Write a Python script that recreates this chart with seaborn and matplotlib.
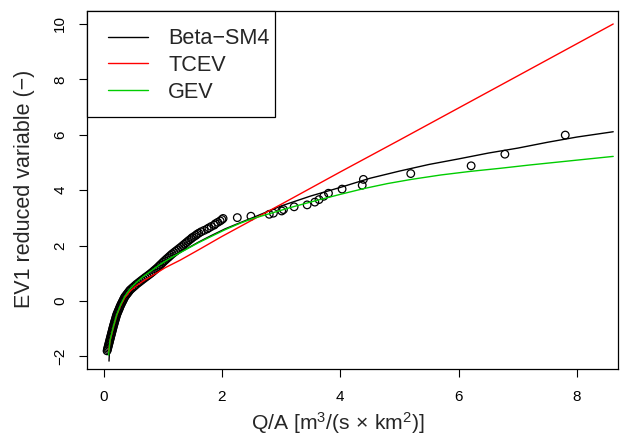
import matplotlib
matplotlib.use("Agg")
import matplotlib.pyplot as plt
from matplotlib.patches import Rectangle
import seaborn as sns
import pandas as pd

# Observed specific discharge (Q/A) and EV1 reduced variate of each sample
obs_x = [
    0.060, 0.066, 0.072, 0.078, 0.084, 0.090, 0.096, 0.102, 0.108,
    0.114, 0.120, 0.126, 0.132, 0.138, 0.144, 0.150, 0.156, 0.162, 0.168,
    0.175, 0.182, 0.188, 0.195, 0.202, 0.209, 0.215, 0.222,
    0.232, 0.241, 0.251, 0.261, 0.271, 0.280, 0.290,
    0.302, 0.313, 0.325, 0.337, 0.348, 0.360,
    0.378, 0.396, 0.414, 0.432, 0.450,
    0.476, 0.503, 0.529, 0.555,
    0.585, 0.615, 0.645, 0.675,
    0.706, 0.738, 0.769, 0.800,
    0.828, 0.855, 0.883, 0.910,
    0.934, 0.958, 0.982, 1.006, 1.030,
    1.056, 1.082, 1.108, 1.134, 1.160,
    1.190, 1.220, 1.250, 1.280, 1.310,
    1.338, 1.366, 1.394, 1.422, 1.450,
    1.48, 1.50, 1.53, 1.56, 1.58, 1.61, 1.65, 1.70, 1.75, 1.78,
    1.82, 1.87, 1.89, 1.93, 1.97, 2.00, 2.02,
    2.26, 2.49, 2.80, 2.87, 3.01, 3.04, 3.22, 3.44, 3.57, 3.64,
    3.72, 3.80, 4.03, 4.37, 4.39, 5.19, 6.21, 6.78, 7.80,
]
obs_y = [
    -1.80, -1.75, -1.70, -1.65, -1.60, -1.55, -1.50, -1.45, -1.40,
    -1.35, -1.30, -1.25, -1.20, -1.15, -1.10, -1.05, -1.00, -0.95, -0.90,
    -0.85, -0.80, -0.75, -0.70, -0.65, -0.60, -0.55, -0.50,
    -0.45, -0.40, -0.35, -0.30, -0.25, -0.20, -0.15,
    -0.10, -0.05, 0.00, 0.05, 0.10, 0.15,
    0.20, 0.25, 0.30, 0.35, 0.40,
    0.45, 0.50, 0.55, 0.60,
    0.65, 0.70, 0.75, 0.80,
    0.85, 0.90, 0.95, 1.00,
    1.05, 1.10, 1.15, 1.20,
    1.25, 1.30, 1.35, 1.40, 1.45,
    1.50, 1.55, 1.60, 1.65, 1.70,
    1.75, 1.80, 1.85, 1.90, 1.95,
    2.00, 2.05, 2.10, 2.15, 2.20,
    2.25, 2.29, 2.33, 2.37, 2.41, 2.45, 2.50, 2.55, 2.60, 2.64,
    2.69, 2.74, 2.79, 2.84, 2.89, 2.94, 2.98,
    3.01, 3.06, 3.13, 3.17, 3.25, 3.30, 3.40, 3.47, 3.57, 3.66,
    3.78, 3.89, 4.04, 4.18, 4.39, 4.60, 4.88, 5.30, 5.99,
]

# Fitted distributions
beta_x = [0.093, 0.100, 0.115, 0.166, 0.222, 0.29, 0.36, 0.45, 0.56, 0.67,
          0.80, 0.95, 1.10, 1.30, 1.60, 1.80, 2.05, 2.30, 2.50, 3.00,
          3.50, 4.00, 4.50, 5.00, 5.50, 6.00, 6.50, 7.00, 7.50, 8.00, 8.61]
beta_y = [-2.17, -1.85, -1.45, -0.93, -0.50, -0.13, 0.17, 0.44, 0.68, 0.88,
          1.08, 1.31, 1.51, 1.76, 2.12, 2.34, 2.60, 2.82, 2.99, 3.43,
          3.79, 4.10, 4.43, 4.69, 4.93, 5.13, 5.34, 5.52, 5.73, 5.92, 6.11]

tcev_x = [0.085, 0.11, 0.166, 0.222, 0.29, 0.36, 0.45, 0.56, 0.70, 0.85,
          1.04, 1.30, 1.60, 2.00, 2.50, 3.00, 4.00, 5.00, 7.00, 8.61]
tcev_y = [-1.85, -1.45, -0.95, -0.52, -0.16, 0.12, 0.36, 0.56, 0.76, 0.95,
          1.20, 1.48, 1.84, 2.33, 2.91, 3.49, 4.66, 5.81, 8.13, 10.00]

gev_x = [0.085, 0.11, 0.166, 0.222, 0.29, 0.36, 0.45, 0.56, 0.67, 0.80,
         0.95, 1.10, 1.30, 1.60, 1.80, 2.05, 2.30, 2.50, 2.80, 3.20,
         3.60, 4.00, 4.40, 4.80, 5.20, 5.70, 6.20, 6.70, 7.20, 7.70,
         8.20, 8.61]
gev_y = [-1.95, -1.42, -0.93, -0.50, -0.13, 0.17, 0.44, 0.68, 0.88, 1.08,
         1.31, 1.51, 1.75, 2.10, 2.31, 2.57, 2.80, 2.96, 3.15, 3.40,
         3.63, 3.85, 4.06, 4.24, 4.39, 4.55, 4.68, 4.79, 4.91, 5.02,
         5.13, 5.22]

x_ticks = [0, 2, 4, 6, 8]
y_ticks = [-2, 0, 2, 4, 6, 8, 10]

sns.set_theme(style="white")
plt.rcParams["font.family"] = ["Liberation Sans", "DejaVu Sans"]
plt.rcParams["mathtext.fontset"] = "custom"
plt.rcParams["mathtext.rm"] = "Liberation Sans"
plt.rcParams["mathtext.it"] = "Liberation Sans:italic"

W, H = 624, 437
fig = plt.figure(figsize=(W / 100, H / 100), dpi=100)
left, right, top, bottom = 86.7, 618.3, 10.7, 369.3
ax = fig.add_axes([left / W, 1 - bottom / H, (right - left) / W, (bottom - top) / H])

obs = pd.DataFrame({"x": obs_x, "y": obs_y})
sns.scatterplot(data=obs, x="x", y="y", ax=ax, s=30, marker="o",
                facecolor="none", edgecolor="black", linewidth=0.9, zorder=2)

curves = [("Beta\u2212SM4", beta_x, beta_y, "black"),
          ("TCEV", tcev_x, tcev_y, "#ff0000"),
          ("GEV", gev_x, gev_y, "#00cd00")]
handles = []
for name, xs, ys, col in curves:
    d = pd.DataFrame({"x": xs, "y": ys})
    sns.lineplot(data=d, x="x", y="y", ax=ax, color=col, linewidth=1.0,
                 sort=False, estimator=None, zorder=3)
    handles.append(ax.get_lines()[-1])

ax.set_xlim(-0.284, 8.696)
ax.set_ylim(-2.466, 10.48)
ax.set_xticks(x_ticks)
ax.set_yticks(y_ticks)
ax.set_xticklabels([str(v) for v in x_ticks])
ax.set_yticklabels([str(v).replace("-", "\u2212") for v in y_ticks])

for sp in ax.spines.values():
    sp.set_visible(True)
    sp.set_color("black")
    sp.set_linewidth(0.9)

ax.tick_params(axis="both", direction="out", length=6, width=0.8,
               colors="black", labelsize=11, bottom=True, left=True)
ax.tick_params(axis="x", pad=9)
ax.tick_params(axis="y", labelrotation=90, pad=8)
for lab in ax.get_yticklabels():
    lab.set_va("center")

ax.set_xlabel(r"Q/A [m$^3$/(s$\,\times\,$km$^2$)]", fontsize=15.2)
ax.set_ylabel("EV1 reduced variable (\u2212)", fontsize=15.5)
ax.xaxis.set_label_coords(0.473, -0.115)
ax.yaxis.set_label_coords(-0.098, 0.503)

# Legend box drawn flush with the upper-left corner of the plot
ax.add_patch(Rectangle((0.0, 0.7036), 0.355, 0.2964, transform=ax.transAxes,
                       facecolor="white", edgecolor="black", linewidth=0.9,
                       zorder=5, clip_on=False))
leg = ax.legend(handles, [c[0] for c in curves], loc="upper left",
                bbox_to_anchor=(0.0406, 0.951), borderaxespad=0, borderpad=0,
                frameon=False, fontsize=15.6, handlelength=1.84,
                handletextpad=0.92, labelspacing=0.26)
leg.set_zorder(6)

fig.savefig("out.png", dpi=100)
